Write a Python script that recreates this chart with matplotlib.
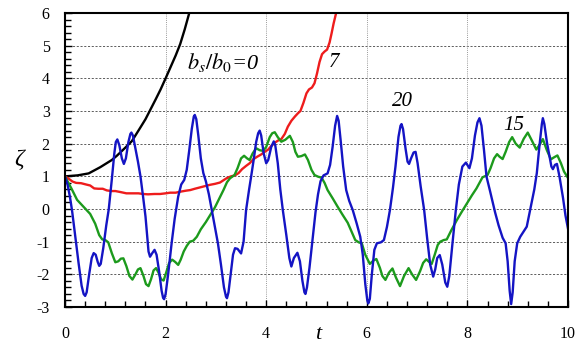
import matplotlib
matplotlib.use("Agg")
import matplotlib.pyplot as plt
from matplotlib.ticker import MultipleLocator

# ---- data ----
black_t = [0.00, 0.25, 0.47, 0.70, 0.93, 1.03, 1.20, 1.33, 1.50, 1.60, 1.70, 1.80,
           1.90, 2.00, 2.10, 2.20, 2.29, 2.38, 2.47, 2.52]
black_y = [1.00, 1.03, 1.09, 1.28, 1.50, 1.63, 1.88, 2.08, 2.50, 2.75, 3.05, 3.35,
           3.66, 4.00, 4.35, 4.70, 5.05, 5.50, 6.00, 6.25]

red_t = [0.00, 0.07, 0.15, 0.22, 0.32, 0.42, 0.50, 0.58, 0.66, 0.75, 0.83, 0.92,
         1.00, 1.10, 1.22, 1.35, 1.46, 1.55, 1.65, 1.78, 1.89, 2.00, 2.09, 2.20,
         2.29, 2.40, 2.49, 2.58, 2.68, 2.78, 2.88, 2.98, 3.08, 3.15, 3.21, 3.30,
         3.38, 3.45, 3.52, 3.60, 3.67, 3.74, 3.82, 3.90, 3.97, 4.04, 4.10, 4.17,
         4.24, 4.30, 4.37, 4.43, 4.50, 4.57, 4.63, 4.68, 4.74, 4.80, 4.85, 4.91,
         4.96, 5.01, 5.06, 5.11, 5.16, 5.21, 5.26, 5.30, 5.34, 5.39, 5.42]
red_y = [1.00, 0.93, 0.84, 0.80, 0.79, 0.75, 0.72, 0.63, 0.62, 0.62, 0.57, 0.55,
         0.55, 0.52, 0.48, 0.48, 0.48, 0.46, 0.45, 0.46, 0.46, 0.48, 0.50, 0.50,
         0.53, 0.56, 0.58, 0.62, 0.66, 0.70, 0.74, 0.77, 0.81, 0.88, 0.94, 1.00,
         1.03, 1.10, 1.22, 1.32, 1.40, 1.52, 1.60, 1.67, 1.75, 1.82, 1.93, 2.03,
         2.10, 2.14, 2.30, 2.52, 2.70, 2.83, 2.93, 3.00, 3.25, 3.54, 3.66, 3.72,
         3.85, 4.15, 4.50, 4.74, 4.82, 4.88, 5.10, 5.38, 5.68, 6.00, 6.20]

green_t = [0.00, 0.05, 0.13, 0.24, 0.35, 0.50, 0.60, 0.68, 0.74, 0.80, 0.86, 0.93,
           1.00, 1.06, 1.11, 1.16, 1.22, 1.28, 1.34, 1.40, 1.45, 1.50, 1.56, 1.61,
           1.66, 1.71, 1.76, 1.81, 1.86, 1.91, 1.96, 2.01, 2.07, 2.13, 2.19, 2.25,
           2.30, 2.36, 2.42, 2.48, 2.55, 2.62, 2.70, 2.80, 2.90, 2.98, 3.06, 3.15,
           3.22, 3.28, 3.37, 3.43, 3.50, 3.56, 3.62, 3.67, 3.73, 3.80, 3.87, 3.94,
           4.00, 4.07, 4.12, 4.17, 4.23, 4.30, 4.38, 4.47, 4.53, 4.58, 4.63, 4.70,
           4.77, 4.83, 4.90, 4.96, 5.03, 5.10, 5.16, 5.22, 5.32, 5.42, 5.52, 5.62,
           5.70, 5.77, 5.84, 5.90, 5.97, 6.06, 6.13, 6.19, 6.26, 6.31, 6.37, 6.44,
           6.51, 6.58, 6.66, 6.74, 6.83, 6.90, 6.98, 7.06, 7.12, 7.18, 7.24, 7.29,
           7.35, 7.41, 7.46, 7.53, 7.59, 7.68, 7.79, 7.89, 7.99, 8.09, 8.18, 8.30,
           8.40, 8.46, 8.53, 8.59, 8.64, 8.70, 8.76, 8.83, 8.89, 8.96, 9.04, 9.12,
           9.20, 9.28, 9.37, 9.44, 9.50, 9.58, 9.66, 9.72, 9.79, 9.86, 9.92, 10.00]
green_y = [1.00, 0.85, 0.62, 0.28, 0.10, -0.15, -0.45, -0.80, -0.93, -0.95, -1.02, -1.35,
           -1.63, -1.60, -1.52, -1.51, -1.75, -2.05, -2.16, -2.00, -1.85, -1.81, -2.05, -2.30,
           -2.36, -2.15, -1.88, -1.81, -1.95, -2.15, -2.19, -1.95, -1.65, -1.55, -1.62, -1.71,
           -1.55, -1.30, -1.13, -1.00, -0.97, -0.85, -0.62, -0.40, -0.15, 0.05, 0.30, 0.58,
           0.82, 0.94, 1.04, 1.25, 1.55, 1.63, 1.55, 1.50, 1.70, 1.86, 1.80, 1.78,
           1.90, 2.20, 2.32, 2.35, 2.20, 2.06, 2.12, 2.24, 2.05, 1.75, 1.60, 1.62,
           1.67, 1.50, 1.20, 1.04, 0.99, 0.96, 0.80, 0.58, 0.33, 0.07, -0.18, -0.42,
           -0.70, -0.95, -1.02, -1.05, -1.40, -1.68, -1.58, -1.53, -1.80, -2.05, -2.17, -1.95,
           -1.82, -2.10, -2.36, -2.05, -1.81, -2.00, -2.17, -1.90, -1.65, -1.54, -1.62, -1.68,
           -1.40, -1.10, -1.00, -0.95, -0.93, -0.65, -0.34, -0.08, 0.17, 0.42, 0.63, 0.97,
           1.04, 1.25, 1.55, 1.68, 1.60, 1.53, 1.75, 2.05, 2.20, 2.00, 1.88, 2.15,
           2.34, 2.10, 1.82, 1.98, 2.14, 1.80, 1.52, 1.58, 1.64, 1.40, 1.15, 0.95]

blue_t = [0.00, 0.05, 0.10, 0.14, 0.20, 0.27, 0.33, 0.37, 0.40, 0.43, 0.48, 0.53,
          0.57, 0.61, 0.65, 0.68, 0.71, 0.76, 0.82, 0.87, 0.93, 0.98, 1.01, 1.04,
          1.08, 1.13, 1.17, 1.21, 1.26, 1.30, 1.32, 1.35, 1.40, 1.45, 1.50, 1.55,
          1.60, 1.64, 1.66, 1.69, 1.73, 1.78, 1.82, 1.87, 1.92, 1.95, 1.97, 2.00,
          2.05, 2.12, 2.18, 2.25, 2.31, 2.37, 2.42, 2.47, 2.52, 2.56, 2.58, 2.61,
          2.65, 2.70, 2.75, 2.80, 2.86, 2.92, 2.98, 3.04, 3.10, 3.16, 3.20, 3.22,
          3.25, 3.30, 3.34, 3.38, 3.43, 3.50, 3.55, 3.60, 3.66, 3.70, 3.75, 3.80,
          3.84, 3.87, 3.90, 3.95, 4.00, 4.04, 4.10, 4.15, 4.18, 4.23, 4.28, 4.33,
          4.40, 4.46, 4.50, 4.55, 4.62, 4.67, 4.72, 4.76, 4.78, 4.81, 4.86, 4.92,
          4.98, 5.03, 5.08, 5.14, 5.22, 5.27, 5.32, 5.37, 5.41, 5.44, 5.48, 5.53,
          5.59, 5.65, 5.72, 5.80, 5.87, 5.92, 5.97, 6.01, 6.03, 6.06, 6.10, 6.15,
          6.20, 6.28, 6.34, 6.40, 6.46, 6.52, 6.57, 6.63, 6.67, 6.69, 6.72, 6.77,
          6.81, 6.84, 6.88, 6.93, 6.97, 7.01, 7.07, 7.14, 7.20, 7.26, 7.32, 7.36,
          7.40, 7.45, 7.50, 7.56, 7.60, 7.64, 7.70, 7.77, 7.83, 7.90, 7.97, 8.04,
          8.09, 8.15, 8.20, 8.24, 8.28, 8.33, 8.38, 8.45, 8.55, 8.62, 8.70, 8.76,
          8.80, 8.84, 8.87, 8.90, 8.94, 8.99, 9.05, 9.12, 9.18, 9.25, 9.33, 9.38,
          9.43, 9.48, 9.50, 9.53, 9.58, 9.62, 9.67, 9.70, 9.74, 9.78, 9.83, 9.90,
          9.95, 10.00]
blue_y = [1.00, 0.75, 0.35, -0.05, -0.80, -1.66, -2.35, -2.60, -2.66, -2.55, -2.00, -1.50,
          -1.35, -1.40, -1.62, -1.74, -1.68, -1.20, -0.50, 0.00, 0.90, 1.70, 2.05, 2.13,
          1.95, 1.55, 1.38, 1.55, 2.05, 2.30, 2.34, 2.25, 1.85, 1.45, 1.00, 0.40,
          -0.23, -0.95, -1.30, -1.46, -1.36, -1.25, -1.40, -1.90, -2.50, -2.72, -2.76, -2.60,
          -2.00, -1.04, -0.30, 0.38, 0.75, 0.89, 1.20, 1.80, 2.45, 2.83, 2.88, 2.75,
          2.25, 1.55, 1.10, 0.85, 0.45, -0.05, -0.54, -1.05, -1.70, -2.40, -2.68, -2.73,
          -2.55, -1.90, -1.40, -1.20, -1.22, -1.36, -1.00, -0.03, 0.60, 0.99, 1.50, 2.05,
          2.32, 2.40, 2.25, 1.70, 1.40, 1.50, 1.90, 2.07, 1.95, 1.40, 0.60, -0.03,
          -0.80, -1.50, -1.76, -1.50, -1.34, -1.60, -2.20, -2.55, -2.60, -2.40, -1.80, -0.95,
          -0.10, 0.45, 0.85, 1.03, 1.09, 1.35, 1.90, 2.55, 2.85, 2.70, 2.10, 1.30,
          0.58, 0.25, -0.03, -0.45, -0.85, -1.40, -2.30, -2.80, -2.89, -2.75, -2.00, -1.25,
          -1.05, -1.02, -0.95, -0.55, -0.03, 0.65, 1.30, 2.21, 2.55, 2.60, 2.45, 1.85,
          1.45, 1.38, 1.55, 1.73, 1.75, 1.40, 0.70, -0.03, -0.90, -1.70, -2.07, -1.85,
          -1.50, -1.41, -1.70, -2.25, -2.38, -2.05, -1.10, -0.03, 0.75, 1.30, 1.42, 1.25,
          1.55, 2.25, 2.65, 2.78, 2.55, 1.80, 0.99, 0.55, -0.10, -0.50, -0.88, -1.05,
          -1.60, -2.50, -2.91, -2.55, -1.60, -1.05, -0.85, -0.68, -0.54, 0.00, 0.60, 1.10,
          1.90, 2.60, 2.78, 2.60, 2.05, 1.71, 1.30, 1.22, 1.35, 1.38, 1.00, 0.35,
          -0.20, -0.60]

x_ticks = [0, 2, 4, 6, 8, 10]
y_ticks = [-3, -2, -1, 0, 1, 2, 3, 4, 5, 6]
x_tick_labels = ["0", "2", "4", "6", "8", "10"]
y_tick_labels = ["-3", "-2", "-1", "0", "1", "2", "3", "4", "5", "6"]

# ---- figure ----
plt.rcParams['font.family'] = ['Liberation Serif', 'DejaVu Serif']
plt.rcParams['mathtext.fontset'] = 'stix'

fig = plt.figure(figsize=(5.79, 3.45), dpi=100)
ax = fig.add_axes([0.1123, 0.1101, 0.981 - 0.1123, 0.9623 - 0.1101])

lw = 1.7
ax.plot(black_t, black_y, color='black', lw=lw, solid_joinstyle='round')
ax.plot(red_t, red_y, color='#ee1c1c', lw=lw, solid_joinstyle='round')
ax.plot(green_t, green_y, color='#1c9a1c', lw=lw, solid_joinstyle='round')
ax.plot(blue_t, blue_y, color='#1414c4', lw=lw, solid_joinstyle='round')

ax.set_xlim(0, 10)
ax.set_ylim(-3, 6)

ax.set_xticks(x_ticks)
ax.set_xticklabels(x_tick_labels)
ax.set_yticks(y_ticks)
ax.set_yticklabels(y_tick_labels)
ax.xaxis.set_minor_locator(MultipleLocator(0.4))
ax.yaxis.set_minor_locator(MultipleLocator(0.2))

ax.tick_params(axis='both', which='both', direction='in', top=False, right=False,
               width=1.0, labelsize=11.5, colors='black')
ax.tick_params(axis='y', which='major', length=5, pad=11)
ax.tick_params(axis='y', which='minor', length=4)
ax.tick_params(axis='x', which='major', length=5, pad=14)
ax.tick_params(axis='x', which='minor', length=4)

for s in ax.spines.values():
    s.set_linewidth(1.5)

# grid lines
for yv in y_ticks[1:-1]:
    ax.axhline(yv, color='#444444', lw=0.6, ls=(0, (2.5, 2)), zorder=0)
for xv in x_ticks[1:-1]:
    ax.axvline(xv, color='#9a9a9a', lw=0.7, ls=(0, (1, 1.2)), zorder=0)

ax.set_xlabel('t', fontsize=16, style='italic', labelpad=0)
ax.xaxis.set_label_coords((318 - 65) / (568 - 65), -0.062)
ax.xaxis.label.set_va('top')
ax.set_ylabel('ζ', fontsize=17, style='italic', rotation=0)
ax.yaxis.label.set_va('center')
ax.yaxis.set_label_coords(-46 / 503, (307 - 160) / 294)

ax.text(2.43, 4.47, r'$b_s/b_0$=0', fontsize=16, style='italic', ha='left', va='center')
ax.text(5.25, 4.5, '7', fontsize=15, style='italic', ha='left', va='center')
ax.text(6.5, 3.28, '20', fontsize=15, style='italic', ha='left', va='center')
ax.text(8.72, 2.57, '15', fontsize=15, style='italic', ha='left', va='center')

fig.savefig('out.png', dpi=100)
